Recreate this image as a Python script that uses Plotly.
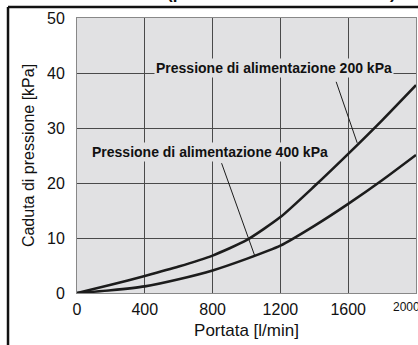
import plotly.graph_objects as go

# Data
flow = [0, 200, 400, 600, 800, 1000, 1200, 1400, 1600, 1800, 2000]
drop_200 = [0, 1.5, 3.1, 4.8, 6.8, 9.6, 13.8, 19.4, 25.3, 31.4, 37.8]
drop_400 = [0, 0.5, 1.2, 2.5, 4.1, 6.2, 8.6, 12.2, 16.2, 20.5, 25.1]

x_ticks = [0, 400, 800, 1200, 1600, 2000]
x_ticklabels = ["0", "400", "800", "1200", "1600", ""]
y_ticks = [0, 10, 20, 30, 40, 50]

label_200 = "Pressione di alimentazione 200 kPa"
label_400 = "Pressione di alimentazione 400 kPa"
label_200_pos = (1165, 40.9)
label_400_pos = (782, 25.6)
leader_200 = [(1529, 38.4), (1653, 27.3)]
leader_400 = [(853, 23.6), (1047, 6.9)]

PLOT_BG = "#e1e1e3"
GRID = "#4a4a4a"
CURVE = "#1c1c1c"

fig = go.Figure()
fig.add_trace(go.Scatter(x=flow, y=drop_200, mode="lines",
                         line=dict(color=CURVE, width=2.6, shape="spline", smoothing=0.6),
                         showlegend=False, hoverinfo="skip"))
fig.add_trace(go.Scatter(x=flow, y=drop_400, mode="lines",
                         line=dict(color=CURVE, width=2.6, shape="spline", smoothing=0.6),
                         showlegend=False, hoverinfo="skip"))

shapes = []
for seg in (leader_200, leader_400):
    shapes.append(dict(type="line", xref="x", yref="y",
                       x0=seg[0][0], y0=seg[0][1], x1=seg[1][0], y1=seg[1][1],
                       line=dict(color="#1c1c1c", width=1), layer="above"))
# outer frame (left and top)
shapes.append(dict(type="line", xref="paper", yref="paper",
                   x0=-0.2035, x1=-0.2035, y0=1.04, y1=-0.3,
                   line=dict(color="#111111", width=2.5)))
shapes.append(dict(type="line", xref="paper", yref="paper",
                   x0=-0.2035, x1=1.2, y0=1.04, y1=1.04,
                   line=dict(color="#111111", width=2.5)))

LABEL_FONT = dict(family="Liberation Sans, Arial", size=14, color="#111111")
annotations = [
    dict(x=label_200_pos[0], y=label_200_pos[1], xref="x", yref="y",
         text="<b>" + label_200 + "</b>", showarrow=False,
         font=LABEL_FONT, bgcolor=PLOT_BG, borderpad=1),
    dict(x=label_400_pos[0], y=label_400_pos[1], xref="x", yref="y",
         text="<b>" + label_400 + "</b>", showarrow=False,
         font=LABEL_FONT, bgcolor=PLOT_BG, borderpad=1),
    dict(x=2000, y=0, xref="x", yref="paper", yanchor="top", yshift=-5, xshift=-10,
         text="2000", showarrow=False,
         font=dict(family="Liberation Sans, Arial", size=12, color="#111111")),
    dict(x=0.602, y=1.0, xref="paper", yref="paper", yanchor="bottom", yshift=13,
         text="<b>(pressione di alimentazione)</b>", showarrow=False,
         font=dict(family="Liberation Sans, Arial", size=17, color="#111111")),
]

fig.update_layout(
    width=418, height=345,
    margin=dict(l=77, r=2, t=18, b=52),
    paper_bgcolor="white",
    plot_bgcolor=PLOT_BG,
    font=dict(family="Liberation Sans, Arial", color="#111111", size=16),
    shapes=shapes,
    annotations=annotations,
    xaxis=dict(range=[0, 2000], tickvals=x_ticks, ticktext=x_ticklabels,
               showgrid=True, gridcolor=GRID, gridwidth=1, zeroline=False,
               showline=True, linecolor="#888888", linewidth=1, mirror=True,
               ticks="", ticklabelstandoff=2,
               title=dict(text="Portata [l/min]", standoff=6, font=dict(size=17)),
               tickfont=dict(size=16)),
    yaxis=dict(range=[0, 50], tickvals=y_ticks,
               showgrid=True, gridcolor=GRID, gridwidth=1, zeroline=False,
               showline=True, linecolor="#888888", linewidth=1, mirror=True,
               ticks="", ticklabelstandoff=8,
               title=dict(text="Caduta di pressione [kPa]", standoff=8, font=dict(size=16)),
               tickfont=dict(size=16)),
)

fig.write_html("out.html")
